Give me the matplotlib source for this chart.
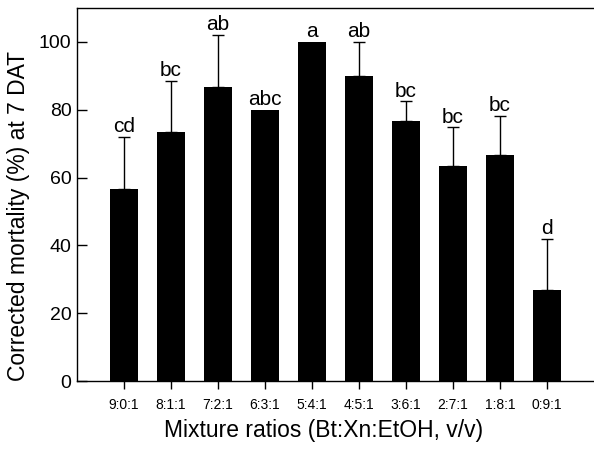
import matplotlib
matplotlib.use("Agg")
import matplotlib.pyplot as plt

plt.rcParams['font.family'] = ['Liberation Sans', 'DejaVu Sans']

categories = ["9:0:1", "8:1:1", "7:2:1", "6:3:1", "5:4:1", "4:5:1", "3:6:1", "2:7:1", "1:8:1", "0:9:1"]
means = [56.7, 73.3, 86.7, 80.0, 100.0, 90.0, 76.7, 63.3, 66.7, 26.7]
errors = [15.3, 15.2, 15.3, 0.0, 0.0, 10.0, 5.8, 11.5, 11.5, 15.3]
letters = ["cd", "bc", "ab", "abc", "a", "ab", "bc", "bc", "bc", "d"]

W, H = 594, 450
fig = plt.figure(figsize=(W / 100, H / 100), dpi=100)
ax = fig.add_axes([77 / W, (H - 381) / H, 1 - 77 / W, (381 - 8) / H])

x = list(range(len(categories)))
ax.bar(x, means, width=0.6, color='black', zorder=2)
for xi, m, e in zip(x, means, errors):
    if e > 0:
        ax.errorbar(xi, m, yerr=[[0], [e]], fmt='none', ecolor='black',
                    elinewidth=1, capsize=4, capthick=1, zorder=3)
    ax.text(xi, m + e + 1.4, letters[xi], ha='center', va='baseline', fontsize=15)

ax.set_xlim(-1, 10)
ax.set_ylim(0, 110)
ax.set_yticks([0, 20, 40, 60, 80, 100])
ax.set_xticks(x)
ax.set_xticklabels(categories, fontsize=10)
ax.tick_params(axis='y', labelsize=14, direction='in', length=7.5, width=1, pad=4)
ax.tick_params(axis='x', direction='out', length=6, width=1, pad=6)
ax.spines['right'].set_visible(False)
for s in ['left', 'top', 'bottom']:
    ax.spines[s].set_linewidth(1)

fig.text(323.5 / W, 1 - 437 / H, "Mixture ratios (Bt:Xn:EtOH, v/v)",
         ha='center', va='baseline', fontsize=16.5)
fig.text(19 / W, 1 - 216 / H, "Corrected mortality (%) at 7 DAT",
         ha='center', va='center', rotation=90, fontsize=16.5)

fig.savefig("out.png", dpi=100)
